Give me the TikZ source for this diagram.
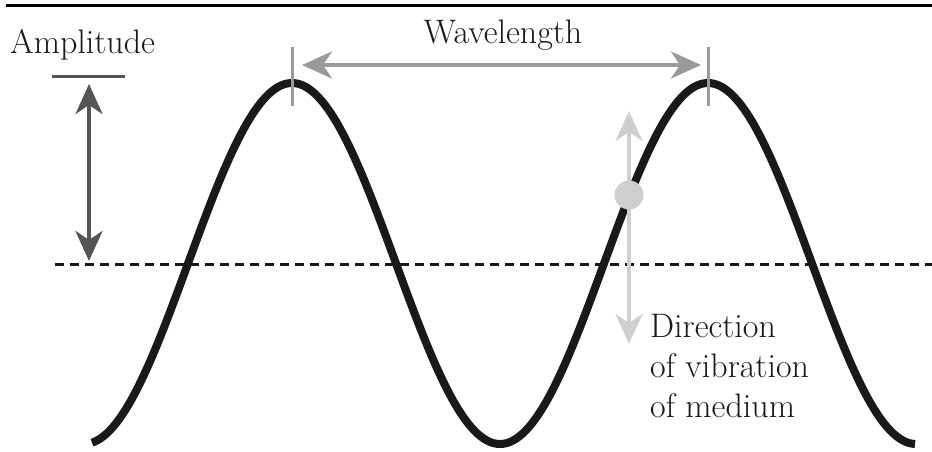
\documentclass[tikz,border=0pt]{standalone}
\usetikzlibrary{arrows.meta}
\definecolor{darkg}{HTML}{555555}
\definecolor{midg}{HTML}{9A9A9A}
\definecolor{lightg}{HTML}{CFCFCF}
\begin{document}
\begin{tikzpicture}[x=1pt,y=-1pt,
  lbl/.style={inner sep=0pt,font=\fontsize{34}{40}\selectfont,text=black!90},
  dbltip/.style={{Stealth[length=30pt,width=27pt,inset=9pt]}-{Stealth[length=30pt,width=27pt,inset=9pt]}},
  wave/.style={line width=8pt,black!90}]
\useasboundingbox (0,0) rectangle (932,451);
% top rule
\coordinate (r1) at (6,5.5); \coordinate (r2) at (932,5.5);
\draw[line width=3pt] (r1) -- (r2);
% baseline
\coordinate (b1) at (55,264); \coordinate (b2) at (932,264);
\draw[line width=3pt,black!90,dash pattern=on 9pt off 6pt] (b1) -- (b2);
% wave
\draw[wave] plot[domain=92:915,samples=300] (\x,{263.5-180.5*cos((\x-292)/416*360)});
% crest ticks
\coordinate (t1a) at (292,47); \coordinate (t1b) at (292,106);
\coordinate (t2a) at (708,47); \coordinate (t2b) at (708,106);
\draw[midg,line width=3pt] (t1a) -- (t1b);
\draw[midg,line width=3pt] (t2a) -- (t2b);
% wavelength arrow
\coordinate (w1) at (302,65); \coordinate (w2) at (701,65);
\draw[midg,line width=4pt,dbltip] (w1) -- (w2);
\node[lbl,anchor=base] (wl) at (503,43) {Wavelength};
% amplitude
\node[lbl,anchor=base west] (amp) at (10,53) {Amplitude};
\coordinate (ab1) at (52,76); \coordinate (ab2) at (125,76);
\draw[darkg,line width=3pt] (ab1) -- (ab2);
\coordinate (a1) at (89,84); \coordinate (a2) at (89,261);
\draw[darkg,line width=4pt,dbltip] (a1) -- (a2);
% vibration
\coordinate (v1) at (629,111); \coordinate (v2) at (629,344);
\draw[lightg,line width=4pt,dbltip] (v1) -- (v2);
\node[circle,fill=lightg,minimum size=29pt,inner sep=0pt] (dot) at (629,195) {};
\node[lbl,anchor=base west] (d1) at (650,337) {Direction};
\node[lbl,anchor=base west] (d2) at (650,377) {of vibration};
\node[lbl,anchor=base west] (d3) at (650,417) {of medium};
\end{tikzpicture}
\end{document}
